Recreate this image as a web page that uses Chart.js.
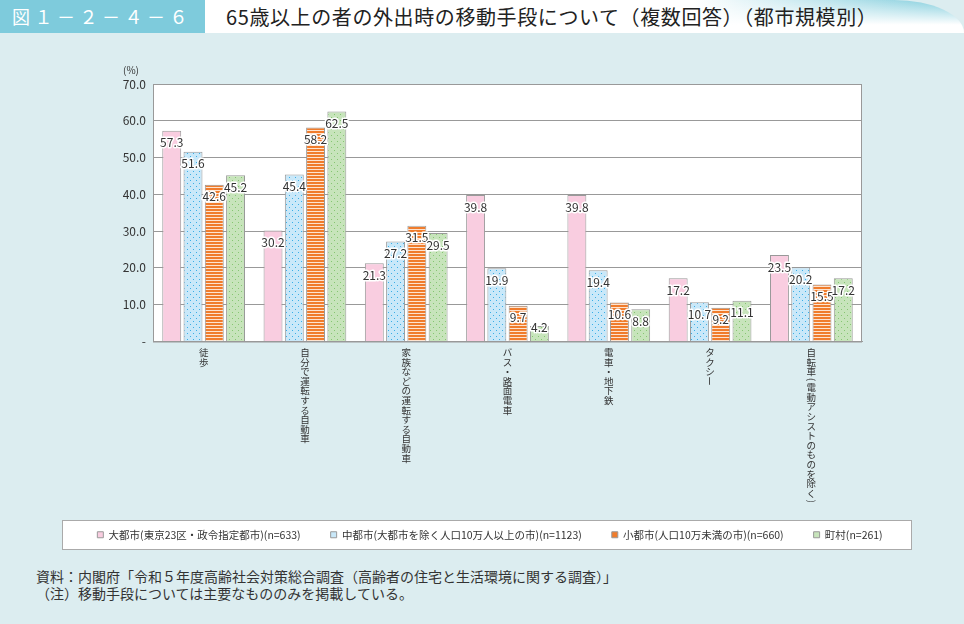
<!DOCTYPE html>
<html lang="ja">
<head>
<meta charset="UTF-8">
<title>図1-2-4-6</title>
<script src="https://cdn.jsdelivr.net/npm/chart.js"></script>
<style>
  body { margin: 0; width: 964px; height: 624px; background: #dcedf0; position: relative; overflow: hidden;
         font-family: "Noto Sans CJK JP", sans-serif; color: #333; }
  #head { position: absolute; left: 0; top: 0; width: 964px; height: 33px;
          background: linear-gradient(180deg, rgba(255,255,255,0) 0, #fff 75%), linear-gradient(90deg, #fff 72%, #7ccbdb 100%);
          border-top-right-radius: 70px 33px; }
  #fig { position: absolute; left: 0; top: 0; width: 205px; height: 33px; background: #7ecbdc; color: #fff;
         font-size: 18px; line-height: 33px; padding-left: 12px; box-sizing: border-box; letter-spacing: 4.5px; }
  #title { position: absolute; left: 226px; top: 0; line-height: 33px; font-size: 20px; letter-spacing: 0.6px; color: #222; }
  #box { position: absolute; left: 60px; top: 50px; width: 860px; height: 500px; }
  #note { position: absolute; left: 36px; top: 568px; font-size: 14px; line-height: 17px; color: #333; }
</style>
</head>
<body>
<div id="head"></div>
<div id="fig">図１－２－４－６</div>
<div id="title">65歳以上の者の外出時の移動手段について（複数回答）（都市規模別）</div>
<div id="box"><canvas id="chart"></canvas></div>
<div id="note">資料：内閣府「令和５年度高齢社会対策総合調査（高齢者の住宅と生活環境に関する調査）」<br>（注）移動手段については主要なもののみを掲載している。</div>

<script>
  const categories = ['徒歩', '自分で運転する自動車', '家族などの運転する自動車', 'バス・路面電車', '電車・地下鉄', 'タクシー', '自転車（電動アシストのものを除く）'];
  const seriesNames = ['大都市(東京23区・政令指定都市)(n=633)', '中都市(大都市を除く人口10万人以上の市)(n=1123)', '小都市(人口10万未満の市)(n=660)', '町村(n=261)'];
  const bigCity = [57.3, 30.2, 21.3, 39.8, 39.8, 17.2, 23.5];
  const midCity = [51.6, 45.4, 27.2, 19.9, 19.4, 10.7, 20.2];
  const smallCity = [42.6, 58.2, 31.5, 9.7, 10.6, 9.2, 15.5];
  const towns = [45.2, 62.5, 29.5, 4.2, 8.8, 11.1, 17.2];
  const yMax = 70;
  const yStep = 10;

  const legendColors = ['#f9cde0', '#c9e8f9', '#f07c2c', '#c7e4bb'];

  function dots(bg, dot) {
    const c = document.createElement('canvas');
    c.width = 6; c.height = 6;
    const g = c.getContext('2d');
    g.fillStyle = bg; g.fillRect(0, 0, 6, 6);
    g.fillStyle = dot;
    g.fillRect(1, 1, 1, 1);
    g.fillRect(4, 4, 1, 1);
    return g.createPattern(c, 'repeat');
  }
  function stripes(bg, line) {
    const c = document.createElement('canvas');
    c.width = 4; c.height = 3;
    const g = c.getContext('2d');
    g.fillStyle = bg; g.fillRect(0, 0, 4, 3);
    g.fillStyle = line; g.fillRect(0, 2, 4, 1);
    return g.createPattern(c, 'repeat');
  }

  const frame = {
    id: 'frame',
    beforeDraw(chart) {
      const { ctx, chartArea: a, legend } = chart;
      ctx.save();
      ctx.fillStyle = '#fff';
      ctx.fillRect(a.left, a.top, a.right - a.left, a.bottom - a.top);
      const hb = legend.legendHitBoxes[0];
      const cy = Math.round(hb.top + hb.height / 2);
      ctx.fillRect(2, cy - 14, chart.width - 10, 29);
      ctx.strokeStyle = '#aaa';
      ctx.lineWidth = 1;
      ctx.strokeRect(2.5, cy - 14.5, chart.width - 11, 29);
      ctx.fillStyle = '#333';
      ctx.font = '10px "Noto Sans CJK JP"';
      ctx.textAlign = 'center';
      ctx.fillText('(%)', a.left - 22, a.top - 14);
      ctx.restore();
    },
    beforeDatasetsDraw(chart) {
      const { ctx, chartArea: a } = chart;
      ctx.save();
      ctx.strokeStyle = '#999';
      ctx.lineWidth = 1;
      ctx.strokeRect(a.left + 0.5, a.top + 0.5, a.right - a.left - 1, a.bottom - a.top);
      ctx.restore();
    },
    afterDatasetsDraw(chart) {
      const ctx = chart.ctx;
      ctx.save();
      ctx.font = '12px "Noto Sans CJK JP"';
      ctx.textAlign = 'center';
      ctx.textBaseline = 'middle';
      ctx.lineJoin = 'round';
      chart.data.datasets.forEach((ds, di) => {
        chart.getDatasetMeta(di).data.forEach((bar, i) => {
          const txt = ds.data[i].toFixed(1);
          const y = Math.min(bar.y + 12, bar.base - 14);
          ctx.lineWidth = 3;
          ctx.strokeStyle = '#fff';
          ctx.strokeText(txt, bar.x, y);
          ctx.fillStyle = '#333';
          ctx.fillText(txt, bar.x, y);
        });
      });
      ctx.restore();
    },
    // category names in vertical writing, one character under the other
    afterDraw(chart) {
      const { ctx } = chart;
      const x = chart.scales.x;
      ctx.save();
      ctx.font = '9.5px "Noto Sans CJK JP"';
      ctx.fillStyle = '#333';
      ctx.textAlign = 'center';
      ctx.textBaseline = 'middle';
      categories.forEach((name, i) => {
        const cx = x.getPixelForTick(i);
        let y = x.top + 6;
        Array.from(name).forEach(ch => {
          const paren = ch === '（' || ch === '）';
          const step = paren ? 6.5 : 9.6;
          const cy = y + step / 2;
          if (paren || ch === 'ー') {
            ctx.save();
            ctx.translate(cx, cy);
            ctx.rotate(Math.PI / 2);
            ctx.fillText(paren ? (ch === '（' ? '(' : ')') : ch, 0, 0);
            ctx.restore();
          } else {
            ctx.fillText(ch, cx, cy);
          }
          y += step;
        });
      });
      ctx.restore();
    }
  };

  Chart.defaults.font.family = '"Noto Sans CJK JP", sans-serif';
  Chart.defaults.color = '#333';

  const ctx = document.getElementById('chart').getContext('2d');
  const chart = new Chart(ctx, {
    type: 'bar',
    data: {
      labels: categories,
      datasets: [
        { label: seriesNames[0], data: bigCity, backgroundColor: '#f9cde0' },
        { label: seriesNames[1], data: midCity, backgroundColor: dots('#c9e8f9', '#3aaee6') },
        { label: seriesNames[2], data: smallCity, backgroundColor: stripes('#f07c2c', '#fde3cf') },
        { label: seriesNames[3], data: towns, backgroundColor: dots('#c7e4bb', '#86c672') }
      ].map(d => Object.assign(d, { borderColor: '#999', borderWidth: 1, categoryPercentage: 0.84, barPercentage: 0.89 }))
    },
    options: {
      responsive: true,
      maintainAspectRatio: false,
      animation: false,
      layout: { padding: { left: 0, right: 0, top: 34, bottom: 0 } },
      scales: {
        x: {
          grid: { display: false, drawTicks: false, tickLength: 0 },
          border: { color: '#999' },
          ticks: { display: false },
          afterFit: s => { s.height = 158; }
        },
        y: {
          min: 0, max: yMax,
          grid: { color: '#999', drawTicks: false },
          border: { color: '#999' },
          ticks: {
            stepSize: yStep, padding: 7, font: { size: 12 },
            callback: v => v === 0 ? '-' : v.toFixed(1)
          },
          afterFit: s => { s.width = 93; }
        },
        // empty right-hand axis, only keeps the plot clear of the right edge
        side: {
          position: 'right', min: 0, max: 1,
          grid: { display: false, drawTicks: false },
          border: { display: false },
          ticks: { display: false },
          afterFit: s => { s.width = 58; }
        }
      },
      plugins: {
        tooltip: { enabled: false },
        legend: {
          position: 'bottom',
          labels: {
            boxWidth: 6, boxHeight: 6, padding: 30, font: { size: 10.5 },
            generateLabels(chart) {
              const items = Chart.defaults.plugins.legend.labels.generateLabels(chart);
              items.forEach((it, i) => { it.fillStyle = legendColors[i]; it.strokeStyle = '#999'; it.lineWidth = 1; });
              return items;
            }
          }
        }
      }
    },
    plugins: [frame]
  });
</script>
</body>
</html>
